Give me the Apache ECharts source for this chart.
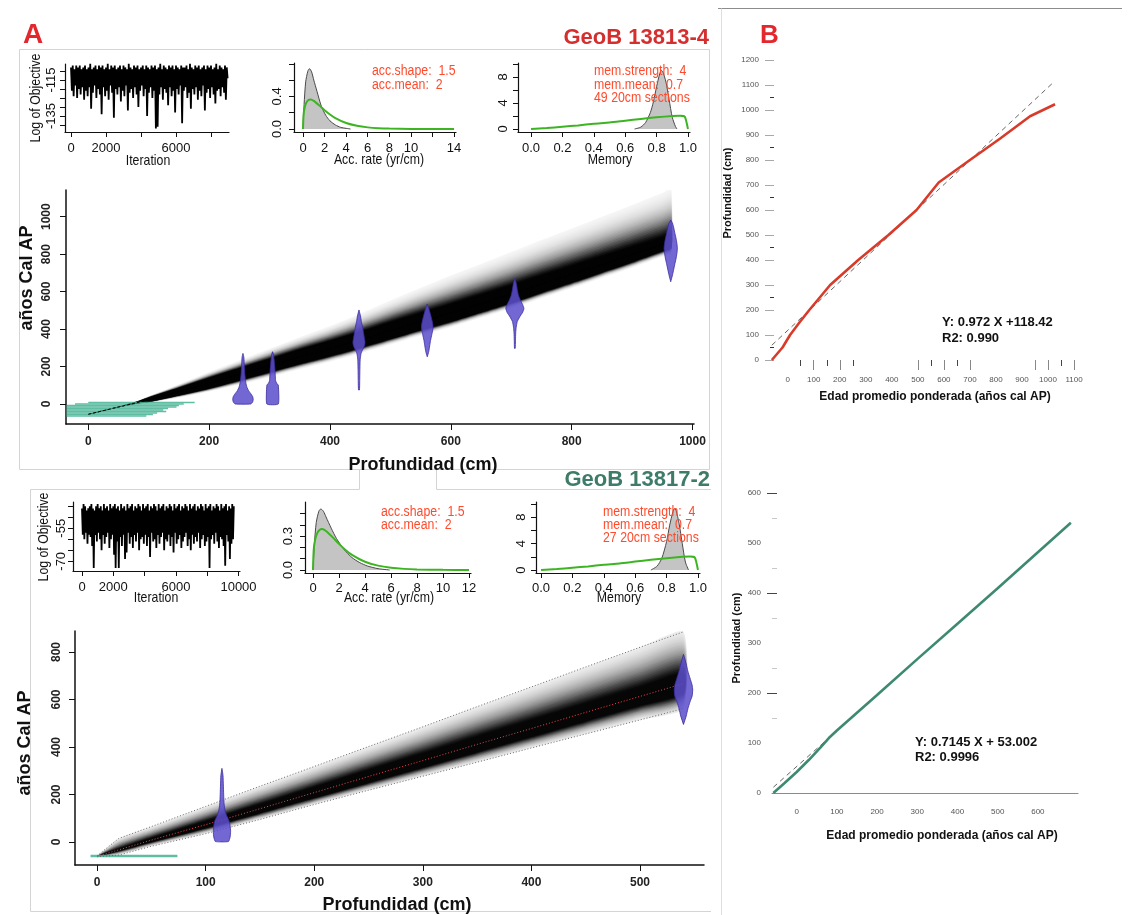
<!DOCTYPE html>
<html>
<head>
<meta charset="utf-8">
<script src="https://cdn.jsdelivr.net/npm/echarts@6/dist/echarts.min.js"></script>
<style>
  html, body { margin: 0; padding: 0; background: #fff; }
  #chart { width: 1135px; height: 915px; }
</style>
</head>
<body>
<div id="chart"></div>
<script>
// ---------------- MCMC traces: log of objective, every 50th iteration ----------------
const traceStep = 50;
const traceA = [
  -108,-121,-107,-124,-109,-118,-107,-125,-108,-120,
  -107,-123,-109,-119,-108,-126,-107,-121,-109,-124,
  -108,-119,-106,-131,-109,-122,-108,-118,-107,-125,
  -109,-120,-107,-123,-108,-134,-107,-119,-109,-124,
  -108,-121,-106,-126,-109,-118,-107,-122,-108,-136,
  -107,-120,-109,-123,-108,-119,-107,-127,-109,-121,
  -107,-124,-108,-118,-109,-132,-106,-122,-108,-120,
  -109,-125,-107,-119,-108,-123,-107,-130,-109,-121,
  -108,-118,-107,-124,-109,-120,-107,-135,-108,-122,
  -109,-119,-107,-125,-108,-121,-107,-142,-109,-141,
  -108,-123,-106,-119,-109,-126,-107,-120,-108,-122,
  -109,-129,-107,-119,-108,-124,-107,-121,-109,-133,
  -107,-120,-108,-123,-109,-118,-107,-139,-108,-121,
  -108,-119,-107,-125,-109,-122,-106,-131,-108,-120,
  -109,-123,-107,-119,-108,-126,-107,-121,-109,-124,
  -108,-118,-107,-132,-109,-122,-107,-120,-108,-125,
  -107,-119,-109,-123,-108,-128,-106,-121,-109,-120,
  -107,-124,-108,-119,-109,-122,-107,-126,-108,-114
];
const traceB = [
  -46,-58,-44,-60,-45,-57,-47,-62,-46,-58,
  -45,-59,-44,-63,-46,-73,-47,-58,-45,-61,
  -44,-57,-46,-60,-45,-65,-47,-58,-44,-62,
  -46,-59,-45,-57,-47,-64,-44,-60,-46,-58,
  -45,-67,-44,-73,-46,-61,-45,-73,-47,-59,
  -44,-63,-46,-58,-45,-69,-47,-66,-44,-57,
  -46,-62,-45,-59,-44,-64,-47,-58,-45,-61,
  -46,-57,-44,-65,-45,-60,-47,-59,-44,-62,
  -46,-58,-45,-63,-44,-59,-47,-68,-45,-57,
  -46,-61,-44,-60,-45,-64,-47,-58,-44,-62,
  -46,-59,-45,-57,-44,-65,-47,-60,-45,-61,
  -46,-58,-44,-63,-45,-59,-47,-66,-44,-57,
  -46,-62,-45,-60,-44,-58,-47,-64,-45,-61,
  -46,-59,-44,-57,-45,-63,-47,-60,-44,-65,
  -46,-58,-45,-62,-44,-59,-47,-61,-45,-57,
  -46,-64,-44,-60,-45,-58,-47,-63,-44,-61,
  -46,-59,-45,-73,-44,-60,-47,-58,-45,-62,
  -46,-57,-44,-61,-45,-64,-47,-59,-44,-60,
  -46,-63,-45,-72,-44,-58,-47,-61,-45,-69,
  -46,-62,-44,-60,-45
];

// ---------------- accumulation rate (yr/cm): posterior and gamma prior ----------------
const accPostAX = [0, 0.1, 0.25, 0.45, 0.6, 0.8, 1.0, 1.3, 1.7, 2.1, 2.5, 3.0, 3.5, 4.0, 4.4];
const accPostAY = [0, 0.3, 0.58, 0.71, 0.74, 0.7, 0.6, 0.46, 0.28, 0.17, 0.1, 0.05, 0.02, 0.008, 0];
const accPostBX = [0, 0.1, 0.25, 0.45, 0.6, 0.8, 1.0, 1.4, 1.8, 2.4, 3.0, 3.6, 4.2, 5.0, 5.9];
const accPostBY = [0, 0.22, 0.42, 0.52, 0.54, 0.52, 0.47, 0.37, 0.28, 0.18, 0.11, 0.065, 0.035, 0.012, 0];
const accPriorX = [0, 0.05, 0.15, 0.3, 0.5, 0.7, 1.0, 1.5, 2.0, 2.5, 3.0, 4.0, 5.0, 6.0, 7.0, 8.0, 10.0, 12.0, 14.0];
const accPriorY = [0, 0.17, 0.26, 0.32, 0.355, 0.363, 0.346, 0.291, 0.231, 0.178, 0.134, 0.073, 0.039, 0.02, 0.01, 0.005, 0.0012, 0.0003, 0.0001];

// ---------------- memory: posterior and beta prior ----------------
const memPostAX = [0.66, 0.7, 0.73, 0.76, 0.78, 0.8, 0.82, 0.83, 0.84, 0.86, 0.88, 0.9, 0.92, 0.93];
const memPostAY = [0, 0.3, 1, 2.5, 4.2, 6.5, 8.5, 9.0, 8.8, 7.2, 4.5, 1.8, 0.4, 0];
const memPostBX = [0.7, 0.74, 0.77, 0.8, 0.82, 0.84, 0.85, 0.86, 0.88, 0.9, 0.92, 0.94];
const memPostBY = [0, 0.6, 1.8, 4.3, 6.8, 8.8, 9.3, 9.1, 7, 4, 1.2, 0];
const memPriorX = [0, 0.1, 0.2, 0.3, 0.4, 0.5, 0.6, 0.7, 0.8, 0.9, 0.95, 0.98, 1.0];
const memPriorY = [0, 0.15, 0.35, 0.55, 0.8, 1.0, 1.28, 1.55, 1.8, 2.0, 2.05, 1.9, 0];

// ---------------- age-depth model GeoB 13813-4 ----------------
const depthA  = [0, 50, 80, 100, 150, 200, 250, 300, 350, 400, 450, 500, 550, 600, 650, 700, 750, 800, 850, 900, 950, 965];
const medianA = [-55, -16, 7, 23, 66, 111, 158, 205, 252, 296, 342, 392, 440, 486, 536, 586, 640, 692, 745, 798, 852, 868];
const coreA   = [1, 2, 5, 12, 20, 28, 32, 35, 38, 40, 42, 44, 45, 46, 46, 46, 45, 44, 42, 40, 36, 34];
const lowerA  = [-57, -19, 0, 7, 34, 66, 103, 143, 186, 226, 270, 318, 365, 410, 460, 510, 565, 618, 673, 728, 786, 804];
const upperA  = [-53, -12, 16, 43, 106, 171, 233, 295, 357, 416, 482, 552, 620, 686, 748, 811, 875, 937, 1000, 1063, 1127, 1148];

// calibrated dates (depth, age grid, half-width of the probability shape in cm)
const dateDepthA = [256, 305, 448, 561, 706, 964];
const dateAgeA = [
  [0, 10, 25, 40, 55, 70, 90, 110, 130, 160, 190, 220, 250, 270],
  [0, 100, 112, 125, 150, 180, 210, 240, 265, 279],
  [75, 120, 180, 240, 270, 290, 310, 330, 350, 380, 410, 440, 470, 502],
  [252, 280, 310, 340, 370, 400, 420, 445, 470, 495, 515, 534],
  [297, 340, 380, 410, 440, 465, 490, 510, 530, 555, 580, 610, 640, 671],
  [653, 690, 720, 750, 780, 810, 830, 850, 880, 910, 940, 965, 982]
];
const dateWidthA = [
  [13, 16, 17, 16, 13, 9.5, 6.5, 5, 4, 3, 2.5, 2, 1.5, 0],
  [9.5, 9.5, 6.5, 5, 4.5, 4, 3.2, 2.4, 1.5, 0],
  [0.8, 1.2, 1.5, 2, 3.5, 6, 9, 10, 9, 7.5, 6, 4, 2.5, 0],
  [0, 2.5, 4, 5.5, 7.5, 9.4, 9.4, 8, 6, 4, 2, 0],
  [0.6, 1, 1.4, 2.2, 4, 8, 13, 15, 13, 9, 6, 4, 2.5, 0],
  [0, 3, 5, 7, 9, 10.5, 11, 10.5, 9, 7, 5, 3, 0]
];
// surface age spread (horizontal bars at the core top)
const surfAgeA   = [8, 0, -8, -16, -24, -32, -40, -48, -56, -64];
const surfStartA = [0, -22, -36, -36, -36, -36, -36, -36, -36, -36];
const surfEndA   = [176, 158, 150, 146, 132, 124, 129, 114, 107, 96];

// ---------------- age-depth model GeoB 13817-2 ----------------
const depthB  = [0, 20, 50, 100, 150, 200, 250, 300, 350, 400, 450, 500, 540];
const medianB = [-60, -33, 8, 73, 140, 208, 276, 343, 411, 478, 546, 613, 667];
const coreB   = [1, 4, 8, 14, 18, 22, 26, 29, 32, 34, 36, 38, 40];
const lowerB  = [-62, -55, -18, 35, 95, 158, 218, 277, 336, 396, 455, 514, 562];
const upperB  = [-58, 15, 65, 150, 235, 318, 402, 485, 570, 653, 737, 820, 885];
const dateDepthB = [115, 540];
const dateAgeB = [
  [2, 20, 45, 70, 90, 110, 130, 160, 200, 240, 280, 310],
  [495, 530, 560, 590, 615, 640, 660, 690, 720, 750, 790]
];
const dateWidthB = [
  [6, 7.5, 8, 7.5, 6.5, 4.5, 3, 2, 1.6, 1.3, 1, 0],
  [0, 2.5, 4, 6, 8, 8.5, 8, 6, 4, 2.5, 0]
];
const surfAgeB = [-59];
const surfStartB = [-6];
const surfEndB = [74];

// ---------------- depth vs weighted mean age ----------------
const ageTop   = [-61, -20, 9, 45, 83, 163, 271, 387, 495, 580, 700, 815, 931, 1027];
const depthTop = [0, 50, 100, 150, 200, 300, 400, 500, 600, 710, 800, 885, 975, 1023];
const fitTop = { slope: 0.972, intercept: 118.42, r2: '0.990', from: -61, to: 1020 };

const ageBot   = [-58, -30, 0, 30, 60, 80, 100, 200, 300, 400, 500, 600, 682];
const depthBot = [0, 20, 42, 66, 92, 110, 125, 196, 268, 339, 410, 482, 541];
const fitBot = { slope: 0.7145, intercept: 53.002, r2: '0.9996', from: -58, to: 682 };

// ---------------- tick positions ----------------
const ticksMainAX = [0, 200, 400, 600, 800, 1000];
const ticksMainAY = [0, 200, 400, 600, 800, 1000];
const ticksMainBX = [0, 100, 200, 300, 400, 500];
const ticksMainBY = [0, 200, 400, 600, 800];
const ticksRegTopX = [0, 100, 200, 300, 400, 500, 600, 700, 800, 900, 1000, 1100];
const ticksRegTopY = [0, 100, 200, 300, 400, 500, 600, 700, 800, 900, 1000, 1100, 1200];
const ticksRegBotX = [0, 100, 200, 300, 400, 500, 600, 700];
const ticksRegBotY = [0, 100, 200, 300, 400, 500, 600];

// ================= drawing =================
const SANS = "'Liberation Sans', Arial, Helvetica, sans-serif";
const PARAM_RED = '#ff4a2c';

const pairs = (xs, ys) => xs.map((x, i) => [x, ys[i]]);
const one = v => v.toFixed(1);

function axis(kind, g, min, max, ticks, labels, o) {
  o = o || {};
  return {
    type: 'value', gridIndex: g, min: min, max: max,
    position: kind === 'y' ? 'left' : 'bottom',
    offset: o.offset || 0,
    axisLine: { show: o.line !== false, onZero: false,
      lineStyle: { color: o.lineColor || '#111', width: o.lineWidth || 1.2 } },
    axisTick: { show: ticks.length > 0, customValues: ticks, inside: false,
      length: o.tickLen == null ? 5 : o.tickLen,
      lineStyle: { color: o.tickColor || '#111', width: 1 } },
    axisLabel: { show: labels.length > 0, customValues: labels,
      formatter: o.fmt || (v => String(v)),
      fontSize: o.fs || 13, fontFamily: o.ff || SANS, fontWeight: o.fw || 'normal',
      color: o.labelColor || '#111', margin: o.margin == null ? 8 : o.margin,
      rotate: o.rotate || 0 },
    splitLine: { show: false }, splitArea: { show: false }
  };
}

// darkness profile of the model envelope, from the outer bound (f=1) to the core (f=0)
function shadeSteps(n, reach, power, peak) {
  const out = [];
  let keepPrev = 1;
  for (let k = 0; k <= n; k++) {
    const f = 1 - k / n;
    const fm = k < n ? f - 0.5 / n : 0;
    const target = peak * Math.exp(-Math.pow(fm / reach, power));
    const keep = 1 - target;
    out.push({ f: f, a: Math.max(0, 1 - keep / keepPrev) });
    keepPrev = keep;
  }
  return out;
}

function bandSeries(gi, depth, median, core, lower, upper, steps) {
  return {
    type: 'custom', coordinateSystem: 'cartesian2d', xAxisIndex: gi, yAxisIndex: gi,
    silent: true, z: 1, clip: true,
    data: steps.map((s, k) => [k]),
    renderItem: function (params, api) {
      const s = steps[params.dataIndex];
      const top = [], bot = [];
      for (let i = 0; i < depth.length; i++) {
        const up = median[i] + core[i] + s.f * (upper[i] - median[i] - core[i]);
        const lo = median[i] - core[i] - s.f * (median[i] - core[i] - lower[i]);
        top.push(api.coord([depth[i], up]));
        bot.push(api.coord([depth[i], lo]));
      }
      return { type: 'polygon', shape: { points: top.concat(bot.reverse()), smooth: 0.2 },
        style: { fill: 'rgba(0,0,0,' + s.a.toFixed(4) + ')' } };
    }
  };
}

function violinSeries(gi, depths, ages, widths) {
  return {
    type: 'custom', coordinateSystem: 'cartesian2d', xAxisIndex: gi, yAxisIndex: gi,
    silent: true, z: 5,
    data: depths.map(d => [d]),
    renderItem: function (params, api) {
      const i = params.dataIndex, d = depths[i];
      const right = ages[i].map((a, j) => api.coord([d + widths[i][j], a]));
      const left = ages[i].map((a, j) => api.coord([d - widths[i][j], a])).reverse();
      return { type: 'polygon', shape: { points: right.concat(left), smooth: 0.15 },
        style: { fill: 'rgba(92,78,204,0.86)', stroke: '#3a2c9e', lineWidth: 0.8 } };
    }
  };
}

function surfaceSeries(gi, ages, starts, ends, width) {
  return {
    type: 'custom', coordinateSystem: 'cartesian2d', xAxisIndex: gi, yAxisIndex: gi,
    silent: true, z: 3,
    data: ages.map((a, i) => [starts[i], ends[i], a]),
    renderItem: function (params, api) {
      const p1 = api.coord([api.value(0), api.value(2)]);
      const p2 = api.coord([api.value(1), api.value(2)]);
      return { type: 'line', shape: { x1: p1[0], y1: p1[1], x2: p2[0], y2: p2[1] },
        style: { stroke: 'rgba(66,178,146,0.85)', lineWidth: width } };
    }
  };
}

function traceSeries(gi, values) {
  return { type: 'line', xAxisIndex: gi, yAxisIndex: gi, symbol: 'none', silent: true,
    data: values.map((v, i) => [i * traceStep, v]),
    lineStyle: { color: '#000', width: 1.8 } };
}
function histSeries(gi, xs, ys) {
  return { type: 'line', xAxisIndex: gi, yAxisIndex: gi, symbol: 'none', silent: true, z: 2,
    data: pairs(xs, ys), smooth: 0.25,
    lineStyle: { color: '#4a4a4a', width: 1 },
    areaStyle: { color: '#c4c4c4', opacity: 1 } };
}
function priorSeries(gi, xs, ys) {
  return { type: 'line', xAxisIndex: gi, yAxisIndex: gi, symbol: 'none', silent: true, z: 3,
    data: pairs(xs, ys), smooth: 0.2,
    lineStyle: { color: '#3db522', width: 2 } };
}
function fitLine(gi, fit) {
  return { type: 'line', xAxisIndex: gi, yAxisIndex: gi, symbol: 'none', silent: true, z: 2,
    data: [[fit.from, fit.slope * fit.from + fit.intercept], [fit.to, fit.slope * fit.to + fit.intercept]],
    lineStyle: { color: '#555', width: 0.9, type: [5, 4] } };
}

const grids = [
  { left: 65,  top: 64,  width: 164, height: 68 },   // 0 trace A
  { left: 294, top: 63,  width: 162, height: 69 },   // 1 acc A
  { left: 518, top: 63,  width: 172, height: 69 },   // 2 memory A
  { left: 66,  top: 190, width: 628, height: 234 },  // 3 age-depth A
  { left: 73,  top: 502, width: 167, height: 69 },   // 4 trace B
  { left: 305, top: 502, width: 166, height: 71 },   // 5 acc B
  { left: 536, top: 502, width: 164, height: 71 },   // 6 memory B
  { left: 75,  top: 631, width: 629, height: 234 },  // 7 age-depth B
  { left: 771, top: 55,  width: 314, height: 305 },  // 8 depth vs age A
  { left: 772, top: 480, width: 306, height: 313 }   // 9 depth vs age B
].map(g => Object.assign({ containLabel: false, outerBoundsMode: 'none', show: false }, g));

const mainOpt = { fw: 'bold', fs: 12, tickLen: 6, lineWidth: 1.5, labelColor: '#222' };
const regOpt = { fs: 8, labelColor: '#555', line: false };

const xAxes = [
  axis('x', 0, -343, 9029, [0, 2000, 4000, 6000, 8000], [0, 2000, 6000], { margin: 10 }),
  axis('x', 1, -0.834, 14.18, [0, 2, 4, 6, 8, 10, 12, 14], [0, 2, 4, 6, 8, 10, 14], { margin: 10 }),
  axis('x', 2, -0.083, 1.013, [0, 0.2, 0.4, 0.6, 0.8, 1.0], [0, 0.2, 0.4, 0.6, 0.8, 1.0], { margin: 10, fmt: one }),
  axis('x', 3, -36.9, 1002.5, ticksMainAX, ticksMainAX, Object.assign({ margin: 12 }, mainOpt)),
  axis('x', 4, -575, 10096, [0, 2000, 4000, 6000, 8000, 10000], [0, 2000, 6000, 10000], { margin: 10 }),
  axis('x', 5, -0.615, 12.15, [0, 2, 4, 6, 8, 10, 12], [0, 2, 4, 6, 8, 10, 12], { margin: 9 }),
  axis('x', 6, -0.032, 1.013, [0, 0.2, 0.4, 0.6, 0.8, 1.0], [0, 0.2, 0.4, 0.6, 0.8, 1.0], { margin: 9, fmt: one }),
  axis('x', 7, -20.3, 558.9, ticksMainBX, ticksMainBX, Object.assign({ margin: 12 }, mainOpt)),
  axis('x', 8, -64.2, 1142.1, [100, 200, 500, 600, 700, 950, 1000, 1100], ticksRegTopX,
    Object.assign({ margin: 16, tickLen: 10, tickColor: '#888' }, regOpt)),
  axis('x', 9, -61.4, 699.8, [], ticksRegBotX,
    Object.assign({}, regOpt, { line: true, lineColor: '#8a8a8a', lineWidth: 1, margin: 15 })),
  axis('x', 8, -64.2, 1142.1, [50, 150, 250, 550, 650, 1050], [], { line: false, tickLen: 6, tickColor: '#444' })
];
const yAxes = [
  axis('y', 0, -143.9, -106.1, [-140, -135, -130, -125, -120, -115, -110], [-135, -115], { rotate: 90, margin: 7 }),
  axis('y', 1, -0.0368, 0.81, [0, 0.2, 0.4, 0.6, 0.8], [0, 0.4], { rotate: 90, margin: 10, fmt: one }),
  axis('y', 2, -0.46, 10.15, [0, 2, 4, 6, 8, 10], [0, 4, 8], { rotate: 90, margin: 8 }),
  axis('y', 3, -106.8, 1142.5, ticksMainAY, ticksMainAY, Object.assign({ rotate: 90, margin: 13 }, mainOpt)),
  axis('y', 4, -74.4, -43.1, [-70, -65, -60, -55, -50, -45], [-70, -55], { rotate: 90, margin: 5 }),
  axis('y', 5, -0.0265, 0.602, [0, 0.1, 0.2, 0.3, 0.4, 0.5], [0, 0.3], { rotate: 90, margin: 10, fmt: one }),
  axis('y', 6, -0.45, 10.3, [0, 2, 4, 6, 8, 10], [0, 4, 8], { rotate: 90, margin: 8 }),
  axis('y', 7, -96.8, 888.4, ticksMainBY, ticksMainBY, Object.assign({ rotate: 90, margin: 12 }, mainOpt)),
  axis('y', 8, 0, 1220, ticksRegTopY, ticksRegTopY,
    Object.assign({ offset: -3, tickLen: 9, tickColor: '#a8a8a8', margin: 15 }, regOpt)),
  axis('y', 9, 0, 626.6, [200, 400, 600], ticksRegBotY,
    Object.assign({ offset: -5, tickLen: 10, tickColor: '#444', margin: 16 }, regOpt)),
  axis('y', 8, 0, 1220, [50, 250, 450, 650, 850, 1050], [], { line: false, offset: -3, tickLen: 4, tickColor: '#333' }),
  axis('y', 9, 0, 626.6, [150, 250, 350, 450, 550], [], { line: false, offset: -5, tickLen: 5, tickColor: '#c8c8c8' })
];

const series = [
  traceSeries(0, traceA),
  histSeries(1, accPostAX, accPostAY),
  priorSeries(1, accPriorX, accPriorY),
  histSeries(2, memPostAX, memPostAY),
  priorSeries(2, memPriorX, memPriorY),

  bandSeries(3, depthA, medianA, coreA, lowerA, upperA, shadeSteps(26, 0.42, 1.4, 0.99)),
  surfaceSeries(3, surfAgeA, surfStartA, surfEndA, 1.7),
  { type: 'line', xAxisIndex: 3, yAxisIndex: 3, symbol: 'none', silent: true, z: 4,
    data: pairs(depthA, medianA), lineStyle: { color: '#000', width: 1, type: [3, 2] } },
  violinSeries(3, dateDepthA, dateAgeA, dateWidthA),

  traceSeries(4, traceB),
  histSeries(5, accPostBX, accPostBY),
  priorSeries(5, accPriorX.slice(0, 18), accPriorY.slice(0, 18)),
  histSeries(6, memPostBX, memPostBY),
  priorSeries(6, memPriorX, memPriorY),

  bandSeries(7, depthB, medianB, coreB, lowerB, upperB, shadeSteps(26, 0.5, 1.4, 0.97)),
  surfaceSeries(7, surfAgeB, surfStartB, surfEndB, 2.4),
  { type: 'line', xAxisIndex: 7, yAxisIndex: 7, symbol: 'none', silent: true, z: 4,
    data: pairs(depthB, upperB), lineStyle: { color: '#6a6a6a', width: 1, type: [1, 2] } },
  { type: 'line', xAxisIndex: 7, yAxisIndex: 7, symbol: 'none', silent: true, z: 4,
    data: pairs(depthB, lowerB), lineStyle: { color: '#6a6a6a', width: 1, type: [1, 2] } },
  { type: 'line', xAxisIndex: 7, yAxisIndex: 7, symbol: 'none', silent: true, z: 4,
    data: pairs(depthB, medianB), lineStyle: { color: '#ec4550', width: 1, type: [1, 2] } },
  violinSeries(7, dateDepthB, dateAgeB, dateWidthB),

  fitLine(8, fitTop),
  { type: 'line', xAxisIndex: 8, yAxisIndex: 8, symbol: 'none', silent: true, z: 3,
    data: pairs(ageTop, depthTop), lineStyle: { color: '#d93b2b', width: 2.6 } },
  fitLine(9, fitBot),
  { type: 'line', xAxisIndex: 9, yAxisIndex: 9, symbol: 'none', silent: true, z: 3,
    data: pairs(ageBot, depthBot), lineStyle: { color: '#3e8a70', width: 2.6 } }
];

function txt(text, x, y, font, fill, align, rot, sx) {
  return { type: 'text', x: x, y: y, rotation: rot || 0, scaleX: sx || 1, silent: true, z: 10,
    style: { text: text, font: font, fill: fill, align: align || 'left', verticalAlign: 'middle' } };
}
function seg(x1, y1, x2, y2, color) {
  return { type: 'line', silent: true, z: -1,
    shape: { x1: x1, y1: y1, x2: x2, y2: y2 }, style: { stroke: color || '#d4d4d4', lineWidth: 1 } };
}
const V = Math.PI / 2;
const SMALL = '15px ' + SANS;
const PARAM = '14px ' + SANS;
const graphic = [
  // panel frames
  { type: 'rect', silent: true, z: -1, shape: { x: 19.5, y: 49.5, width: 690, height: 420 },
    style: { stroke: '#d4d4d4', fill: null, lineWidth: 1 } },
  seg(30.5, 489.5, 359.5, 489.5), seg(359.5, 469, 359.5, 489.5),
  seg(436.5, 469, 436.5, 489.5), seg(436.5, 489.5, 711, 489.5),
  seg(30.5, 489.5, 30.5, 911.5), seg(30.5, 911.5, 711, 911.5),
  seg(718, 8.5, 1122, 8.5, '#8c8c8c'), seg(721.5, 8.5, 721.5, 915, '#dedede'),

  // headings
  txt('A', 23, 35, 'bold 28px ' + SANS, '#e4262d'),
  txt('GeoB 13813-4', 709, 38, 'bold 22px ' + SANS, '#d42e2e', 'right'),
  txt('B', 760, 36, 'bold 26px ' + SANS, '#e4262d'),
  txt('GeoB 13817-2', 710, 480, 'bold 22px ' + SANS, '#3e7b69', 'right'),

  // small-panel axis titles
  txt('Log of Objective', 36, 98, SMALL, '#111', 'center', V, 0.82),
  txt('Iteration', 148, 161, SMALL, '#111', 'center', 0, 0.82),
  txt('Acc. rate (yr/cm)', 379, 160, SMALL, '#111', 'center', 0, 0.82),
  txt('Memory', 610, 160, SMALL, '#111', 'center', 0, 0.82),
  txt('Log of Objective', 44, 537, SMALL, '#111', 'center', V, 0.82),
  txt('Iteration', 156, 598, SMALL, '#111', 'center', 0, 0.82),
  txt('Acc. rate (yr/cm)', 389, 598, SMALL, '#111', 'center', 0, 0.82),
  txt('Memory', 619, 598, SMALL, '#111', 'center', 0, 0.82),

  // prior settings
  txt('acc.shape:  1.5', 372, 71, PARAM, PARAM_RED, 'left', 0, 0.88),
  txt('acc.mean:  2', 372, 85, PARAM, PARAM_RED, 'left', 0, 0.88),
  txt('mem.strength:  4', 594, 71, PARAM, PARAM_RED, 'left', 0, 0.88),
  txt('mem.mean:  0.7', 594, 85, PARAM, PARAM_RED, 'left', 0, 0.88),
  txt('49 20cm sections', 594, 98, PARAM, PARAM_RED, 'left', 0, 0.88),
  txt('acc.shape:  1.5', 381, 512, PARAM, PARAM_RED, 'left', 0, 0.88),
  txt('acc.mean:  2', 381, 525, PARAM, PARAM_RED, 'left', 0, 0.88),
  txt('mem.strength:  4', 603, 512, PARAM, PARAM_RED, 'left', 0, 0.88),
  txt('mem.mean:  0.7', 603, 525, PARAM, PARAM_RED, 'left', 0, 0.88),
  txt('27 20cm sections', 603, 538, PARAM, PARAM_RED, 'left', 0, 0.88),

  // age-depth axis titles
  txt('años Cal AP', 27, 278, 'bold 18px ' + SANS, '#111', 'center', V),
  txt('Profundidad (cm)', 423, 465, 'bold 18px ' + SANS, '#111', 'center'),
  txt('años Cal AP', 25, 743, 'bold 18px ' + SANS, '#111', 'center', V),
  txt('Profundidad (cm)', 397, 905, 'bold 18px ' + SANS, '#111', 'center'),

  // depth vs age titles and fits
  txt('Profundidad (cm)', 728, 193, 'bold 11px ' + SANS, '#111', 'center', V),
  txt('Edad promedio ponderada (años cal AP)', 935, 397, 'bold 12px ' + SANS, '#111', 'center'),
  txt('Y: ' + fitTop.slope + ' X +' + fitTop.intercept, 942, 322, 'bold 13px ' + SANS, '#111'),
  txt('R2: ' + fitTop.r2, 942, 338, 'bold 13px ' + SANS, '#111'),
  txt('Profundidad (cm)', 737, 638, 'bold 11px ' + SANS, '#111', 'center', V),
  txt('Edad promedio ponderada (años cal AP)', 942, 836, 'bold 12px ' + SANS, '#111', 'center'),
  txt('Y: ' + fitBot.slope + ' X + ' + fitBot.intercept, 915, 742, 'bold 13px ' + SANS, '#111'),
  txt('R2: ' + fitBot.r2, 915, 757, 'bold 13px ' + SANS, '#111')
];

const chart = echarts.init(document.getElementById('chart'), null, { renderer: 'canvas' });
chart.setOption({
  animation: false,
  backgroundColor: '#ffffff',
  grid: grids,
  xAxis: xAxes,
  yAxis: yAxes,
  series: series,
  graphic: graphic
});
</script>
</body>
</html>
